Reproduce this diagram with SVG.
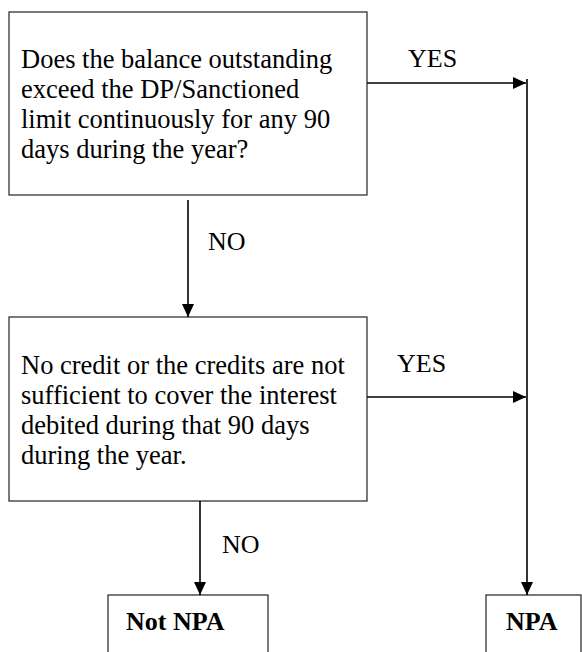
<svg xmlns="http://www.w3.org/2000/svg" width="582" height="652" viewBox="0 0 582 652">
  <style>
    .box { fill: #ffffff; stroke: #222222; stroke-width: 1.2; }
    .t { font-family: "Liberation Serif", "Times New Roman", serif; font-size: 26px; fill: #000000; }
    .p { font-size: 26.5px; }
    .b { font-weight: bold; }
    .conn { fill: none; stroke: #000000; stroke-width: 1.6; }
  </style>
  <defs>
    <marker id="arrow" markerUnits="userSpaceOnUse" markerWidth="13" markerHeight="12" refX="13" refY="6" orient="auto">
      <path d="M0,0 L13,6 L0,12 Z" fill="#000000"/>
    </marker>
  </defs>
  <rect width="582" height="652" fill="#ffffff"/>

  <g id="q1">
    <rect class="box" x="9" y="12" width="358" height="183"/>
    <text class="t p" x="21" y="68">Does the balance outstanding</text>
    <text class="t p" x="21" y="98">exceed the DP/Sanctioned</text>
    <text class="t p" x="21" y="128">limit continuously for any 90</text>
    <text class="t p" x="21" y="158">days during the year?</text>
  </g>

  <g id="q2">
    <rect class="box" x="9" y="317" width="358" height="184"/>
    <text class="t p" x="21" y="374">No credit or the credits are not</text>
    <text class="t p" x="21" y="404">sufficient to cover the interest</text>
    <text class="t p" x="21" y="434">debited during that 90 days</text>
    <text class="t p" x="21" y="464">during the year.</text>
  </g>

  <g id="notnpa">
    <rect class="box" x="108" y="595" width="160" height="70"/>
    <text class="t b" x="126" y="630">Not NPA</text>
  </g>

  <g id="npa">
    <rect class="box" x="486" y="595" width="95" height="70"/>
    <text class="t b" x="506" y="630">NPA</text>
  </g>

  <g id="connectors">
    <path class="conn" d="M367,83 H526" marker-end="url(#arrow)"/>
    <path class="conn" d="M527,79 V595" marker-end="url(#arrow)"/>
    <path class="conn" d="M188,200 V317" marker-end="url(#arrow)"/>
    <path class="conn" d="M367,397 H526" marker-end="url(#arrow)"/>
    <path class="conn" d="M200,501 V595" marker-end="url(#arrow)"/>
    <text class="t" x="408" y="67">YES</text>
    <text class="t" x="397" y="372">YES</text>
    <text class="t" x="208" y="250">NO</text>
    <text class="t" x="222" y="553">NO</text>
  </g>
</svg>
